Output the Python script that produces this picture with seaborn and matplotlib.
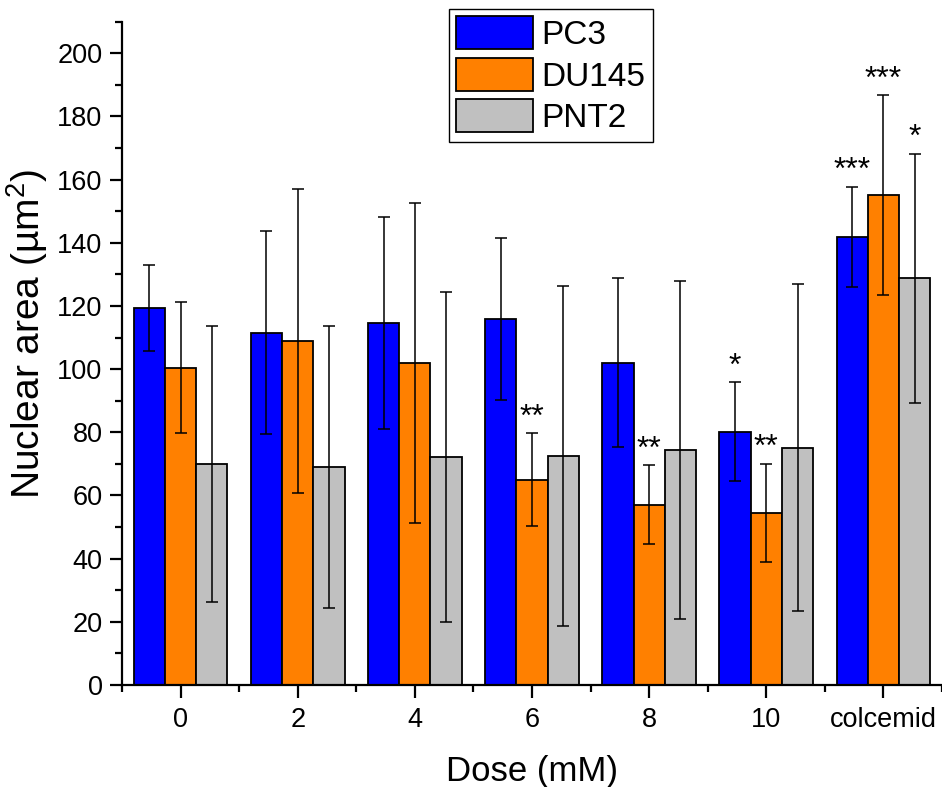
import matplotlib
matplotlib.use("Agg")
import matplotlib.pyplot as plt
from matplotlib.ticker import MultipleLocator, FixedLocator
import numpy as np
import pandas as pd
import seaborn as sns

# ---- data ----
doses = ["0", "2", "4", "6", "8", "10", "colcemid"]
cell_lines = ["PC3", "DU145", "PNT2"]
pc3 = [119.4, 111.6, 114.6, 115.9, 102.1, 80.2, 141.9]
pc3_err = [13.5, 32.0, 33.7, 25.6, 26.9, 15.6, 15.9]
du145 = [100.5, 108.9, 102.0, 65.0, 57.0, 54.5, 155.1]
du145_err = [20.6, 48.0, 50.7, 14.7, 12.5, 15.5, 31.6]
pnt2 = [70.1, 69.1, 72.2, 72.5, 74.4, 75.1, 128.7]
pnt2_err = [43.7, 44.6, 52.2, 53.9, 53.5, 51.7, 39.4]
pc3_stars = ["", "", "", "", "", "*", "***"]
du145_stars = ["", "", "", "**", "**", "**", "***"]
pnt2_stars = ["", "", "", "", "", "", "*"]
colors = ["#0000FF", "#FF8000", "#C0C0C0"]

means = [pc3, du145, pnt2]
errs = [pc3_err, du145_err, pnt2_err]
stars = [pc3_stars, du145_stars, pnt2_stars]

df = pd.DataFrame({
    "Dose": doses * 3,
    "Area": pc3 + du145 + pnt2,
    "Line": [c for c in cell_lines for _ in doses],
})

sns.set_style("ticks")
plt.rcParams["font.family"] = ["Liberation Sans", "DejaVu Sans"]
plt.rcParams["mathtext.default"] = "regular"
plt.rcParams["text.color"] = "black"
plt.rcParams["axes.labelcolor"] = "black"
plt.rcParams["xtick.color"] = "black"
plt.rcParams["ytick.color"] = "black"
plt.rcParams["xtick.labelcolor"] = "black"
plt.rcParams["ytick.labelcolor"] = "black"

fig = plt.figure(figsize=(9.42, 7.87), dpi=100)
ax = fig.add_axes([122 / 942, 102 / 787, 820 / 942, 663.3 / 787])

sns.barplot(data=df, x="Dose", y="Area", hue="Line", order=doses,
            hue_order=cell_lines, palette=colors, saturation=1,
            errorbar=None, width=0.8, edgecolor="black", linewidth=1.3,
            ax=ax)

# error bars and significance marks, positioned from the drawn bars
for cont, m, e, s in zip(ax.containers, means, errs, stars):
    xs = [p.get_x() + p.get_width() / 2 for p in cont.patches]
    ax.errorbar(xs, m, yerr=e, fmt="none", ecolor="black", elinewidth=1.1,
                capsize=4.5, capthick=1.1, zorder=3)
    for x, mv, ev, st in zip(xs, m, e, s):
        if st:
            ax.annotate(st, xy=(x, mv + ev), xytext=(0, 5.5),
                        textcoords="offset points", ha="center",
                        va="baseline", fontsize=23, color="black")

ax.set_xlim(-0.5, 6.5)
ax.set_ylim(0, 210)
ax.yaxis.set_major_locator(MultipleLocator(20))
ax.yaxis.set_minor_locator(MultipleLocator(10))
ax.xaxis.set_minor_locator(FixedLocator(np.arange(-0.5, 7.0, 1.0)))

for side in ["top", "right"]:
    ax.spines[side].set_visible(False)
for side in ["left", "bottom"]:
    ax.spines[side].set_linewidth(1.6)
    ax.spines[side].set_color("black")

ax.tick_params(axis="both", which="major", direction="out", length=9,
               width=1.6, labelsize=19.5, colors="black", pad=5)
ax.tick_params(axis="both", which="minor", direction="out", length=5,
               width=1.6, colors="black")
ax.tick_params(axis="x", which="major", pad=7)

ax.set_xlabel("Dose (mM)", fontsize=25, labelpad=16, color="black")
ax.set_ylabel("Nuclear area (µm$^{2}$)", fontsize=28, color="black")
ax.yaxis.set_label_coords(-0.088, 0.529)

handles, labels = ax.get_legend_handles_labels()
if ax.get_legend() is not None:
    ax.get_legend().remove()
leg = fig.legend(handles, labels, loc="upper left",
                 bbox_to_anchor=(449 / 942, 1 - 9 / 787),
                 bbox_transform=fig.transFigure, borderaxespad=0,
                 fontsize=24, frameon=True, fancybox=False,
                 edgecolor="black", framealpha=1, handlelength=2.3,
                 handleheight=1.15, labelspacing=0.2, handletextpad=0.25,
                 borderpad=0.22)
leg.get_frame().set_linewidth(1.0)
for t in leg.get_texts():
    t.set_color("black")
for h in leg.legend_handles:
    h.set_edgecolor("black")
    h.set_linewidth(1.3)

fig.savefig("out.png", dpi=100)
